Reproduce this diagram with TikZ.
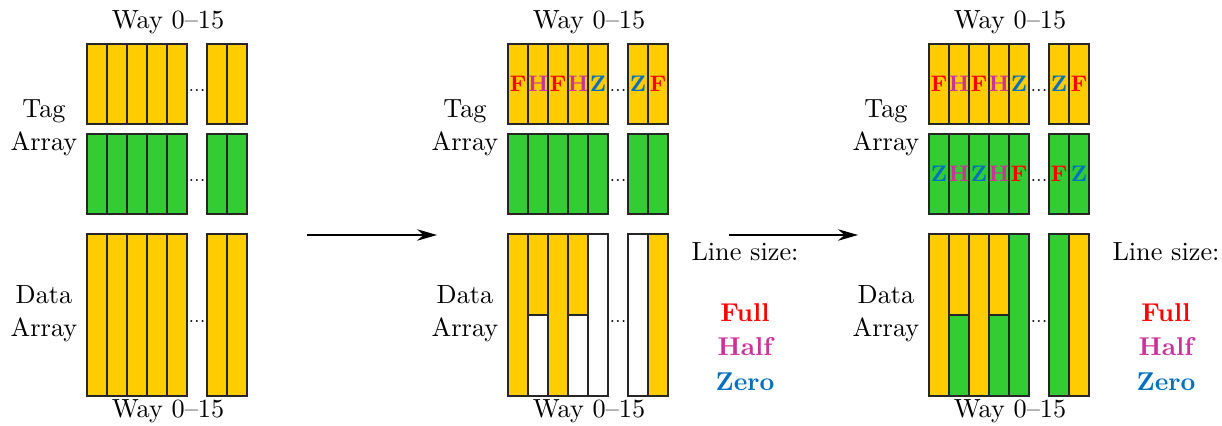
\documentclass[tikz,border=0pt]{standalone}
\usetikzlibrary{arrows.meta}
\definecolor{cellY}{RGB}{255,204,0}
\definecolor{cellG}{RGB}{51,204,51}
\definecolor{cF}{RGB}{255,0,0}
\definecolor{cH}{RGB}{204,51,153}
\definecolor{cZ}{RGB}{0,112,192}
\tikzset{
  cell/.style={draw=black!85, line width=0.45pt},
  letter/.style={font=\small\bfseries, inner sep=0pt},
  label/.style={align=center, inner sep=0pt, font=\fontsize{10.5}{12.6}\selectfont},
  dotsnode/.style={font=\scriptsize, inner sep=0pt},
  legend/.style={font=\fontsize{10.3}{12}\selectfont\bfseries, inner sep=0pt},
  flow/.style={line width=0.5pt, -{Stealth[length=8pt, width=4.6pt]}}
}
\begin{document}
\begin{tikzpicture}[x=0.4pt, y=-0.4pt]
\useasboundingbox (0,0) rectangle (1222,426);

% three panels, shifted by 421 units each
\foreach \ox [count=\p] in {0,421,842} {
  % tag array: address row and state row
  \foreach \x in {87,107,127,147,167,207,227} {
    \filldraw[cell, fill=cellY] (\ox+\x,44) rectangle ++(20,80);
    \filldraw[cell, fill=cellG] (\ox+\x,134) rectangle ++(20,80);
  }
  % labels
  \node[label] (way-top-\p) at (\ox+168,22) {Way 0--15};
  \node[label] (way-bot-\p) at (\ox+168,411) {Way 0--15};
  \node[label] (tag-\p) at (\ox+44,128) {Tag\\[0.6pt]Array};
  \node[label] (data-\p) at (\ox+44,314) {Data\\[0.6pt]Array};
  \node[dotsnode] (dt-\p) at (\ox+197,90) {...};
  \node[dotsnode] (dg-\p) at (\ox+197,180) {...};
  \node[dotsnode] (dd-\p) at (\ox+197,321) {...};
}

% panel 1: all data lines full
\foreach \x in {87,107,127,147,167,207,227}
  \filldraw[cell, fill=cellY] (\x,234) rectangle ++(20,162);

% panel 2: data lines, top half / bottom half
\foreach \x/\t/\b in {87/cellY/cellY,107/cellY/white,127/cellY/cellY,147/cellY/white,167/white/white,207/white/white,227/cellY/cellY} {
  \fill[\t] (421+\x,234) rectangle ++(20,81);
  \fill[\b] (421+\x,315) rectangle ++(20,81);
  \draw[cell] (421+\x,234) rectangle ++(20,162);
}
\foreach \x in {107,147}
  \draw[cell] (421+\x,315) -- ++(20,0);

% panel 3: data lines, top half / bottom half
\foreach \x/\t/\b in {87/cellY/cellY,107/cellY/cellG,127/cellY/cellY,147/cellY/cellG,167/cellG/cellG,207/cellG/cellG,227/cellY/cellY} {
  \fill[\t] (842+\x,234) rectangle ++(20,81);
  \fill[\b] (842+\x,315) rectangle ++(20,81);
  \draw[cell] (842+\x,234) rectangle ++(20,162);
}
\foreach \x in {107,147}
  \draw[cell] (842+\x,315) -- ++(20,0);

% line-size marks in the tag arrays
\foreach \ox in {421,842}
  \foreach \x/\l/\c in {87/F/cF,107/H/cH,127/F/cF,147/H/cH,167/Z/cZ,207/Z/cZ,227/F/cF}
    \node[letter, text=\c] (m-\ox-\x) at (\ox+\x+10,84) {\l};
\foreach \x/\l/\c in {87/Z/cZ,107/H/cH,127/Z/cZ,147/H/cH,167/F/cF,207/F/cF,227/Z/cZ}
  \node[letter, text=\c] (s-\x) at (842+\x+10,174) {\l};

% legends
\foreach \ox [count=\p] in {421,842} {
  \node[label] (ls-\p) at (\ox+324,252) {Line size:};
  \node[legend, text=cF] (lf-\p) at (\ox+324,313) {Full};
  \node[legend, text=cH] (lh-\p) at (\ox+324,347) {Half};
  \node[legend, text=cZ] (lz-\p) at (\ox+324,382) {Zero};
}

% transitions between panels
\coordinate (a1s) at (307,235);
\coordinate (a1e) at (437,235);
\coordinate (a2s) at (729,235);
\coordinate (a2e) at (858,235);
\draw[flow] (a1s) -- (a1e);
\draw[flow] (a2s) -- (a2e);
\end{tikzpicture}
\end{document}
